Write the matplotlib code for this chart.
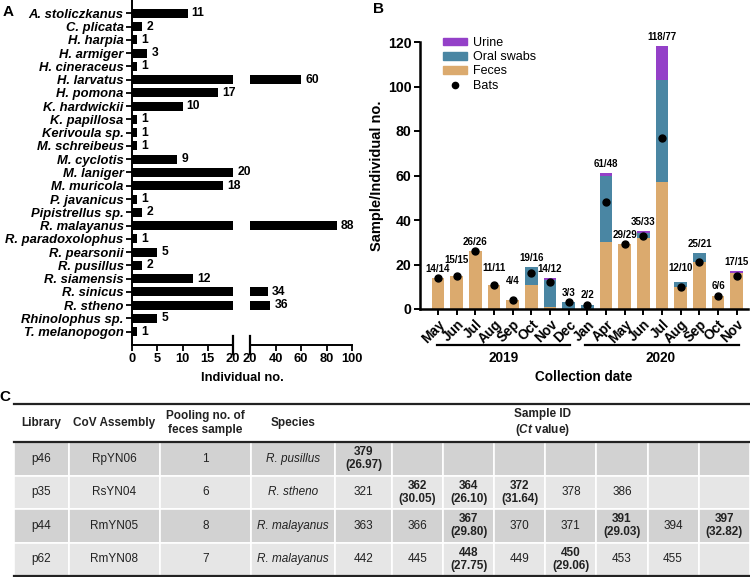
import matplotlib
matplotlib.use('Agg')
import matplotlib.pyplot as plt
from matplotlib.patches import Patch, Rectangle
from matplotlib.lines import Line2D
import numpy as np

plt.rcParams['font.family'] = ['Liberation Sans', 'DejaVu Sans']
plt.rcParams['mathtext.fontset'] = 'custom'
plt.rcParams['mathtext.it'] = 'Liberation Sans:italic:bold'
plt.rcParams['mathtext.rm'] = 'Liberation Sans:bold'
plt.rcParams['axes.linewidth'] = 1.4

# ---------------- Panel A data ----------------
species = ['A. stoliczkanus', 'C. plicata', 'H. harpia', 'H. armiger', 'H. cineraceus',
           'H. larvatus', 'H. pomona', 'K. hardwickii', 'K. papillosa', 'Kerivoula sp.',
           'M. schreibeus', 'M. cyclotis', 'M. laniger', 'M. muricola', 'P. javanicus',
           'Pipistrellus sp.', 'R. malayanus', 'R. paradoxolophus', 'R. pearsonii',
           'R. pusillus', 'R. siamensis', 'R. sinicus', 'R. stheno', 'Rhinolophus sp.',
           'T. melanopogon']
counts = [11, 2, 1, 3, 1, 60, 17, 10, 1, 1, 1, 9, 20, 18, 1, 2, 88, 1, 5, 2, 12, 34, 36, 5, 1]
left_ticks = [0, 5, 10, 15, 20]
right_ticks = [20, 40, 60, 80, 100]

# ---------------- Panel B data ----------------
months = ['May', 'Jun', 'Jul', 'Aug', 'Sep', 'Oct', 'Nov', 'Dec',
          'Jan', 'Apr', 'May', 'Jun', 'Jul', 'Aug', 'Sep', 'Oct', 'Nov']
years = ['2019', '2020']
feces = [14, 15, 26, 11, 4, 11, 1, 0, 0, 30, 29, 32, 57, 10, 21, 6, 16]
oral = [0, 0, 0, 0, 0, 8, 12, 3, 2, 30, 0, 2, 46, 2, 4, 0, 0]
urine = [0, 0, 0, 0, 0, 0, 1, 0, 0, 1, 0, 1, 15, 0, 0, 0, 1]
bats = [14, 15, 26, 11, 4, 16, 12, 3, 2, 48, 29, 33, 77, 10, 21, 6, 15]
b_yticks = [0, 20, 40, 60, 80, 100, 120]

# ---------------- Panel C data ----------------
tbl_headers = ['Library', 'CoV Assembly', 'Pooling no. of\nfeces sample', 'Species']
libraries = ['p46', 'p35', 'p44', 'p62']
assemblies = ['RpYN06', 'RsYN04', 'RmYN05', 'RmYN08']
pooling = [1, 6, 8, 7]
tbl_species = ['R. pusillus', 'R. stheno', 'R. malayanus', 'R. malayanus']
sample_ids = [[379],
              [321, 362, 364, 372, 378, 386],
              [363, 366, 367, 370, 371, 391, 394, 397],
              [442, 445, 448, 449, 450, 453, 455]]
ct_values = [[26.97],
             [None, 30.05, 26.10, 31.64, None, None],
             [None, None, 29.80, None, None, 29.03, None, 32.82],
             [None, None, 27.75, None, 29.06, None, None]]

# ---------------- styling ----------------
C_URINE = '#9440C8'
C_ORAL = '#4A86A3'
C_FECES = '#DBAA6E'
FS = 8

fig = plt.figure(figsize=(7.5, 5.77), dpi=100)
W, H = 750.0, 577.0

def px_axes(x0, y0, x1, y1):
    return fig.add_axes([x0 / W, 1 - y1 / H, (x1 - x0) / W, (y1 - y0) / H])

# ---------------- Panel A ----------------
axL = px_axes(132, 0, 233, 345)
axR = px_axes(250, 0, 352, 345)
ypos = np.arange(len(species))
for ax in (axL, axR):
    ax.barh(ypos, counts, height=0.68, color='black')
    ax.set_ylim(25.0, -1.0)
    for s in ('top', 'right'):
        ax.spines[s].set_visible(False)
    ax.tick_params(axis='x', length=4, width=1.3, labelsize=FS + 1.3, pad=2)
axL.set_xlim(0, 20)
axL.set_xticks(left_ticks)
axL.set_xticklabels([str(t) for t in left_ticks], fontweight='bold')
axL.set_yticks(ypos)
axL.set_yticklabels(species, fontweight='bold', fontstyle='italic', fontsize=FS + 1.4)
axL.tick_params(axis='y', length=4, width=1.3, pad=2)
axR.set_xlim(20, 100)
axR.set_xticks(right_ticks)
axR.set_xticklabels([str(t) for t in right_ticks], fontweight='bold')
axR.spines['left'].set_visible(False)
axR.set_yticks([])
# break marks
axL.plot([1, 1], [-0.025, 0.025], transform=axL.transAxes, color='black', lw=1.6, clip_on=False)
axR.plot([0, 0], [-0.025, 0.025], transform=axR.transAxes, color='black', lw=1.6, clip_on=False)
for y, v in zip(ypos, counts):
    target = axL if v <= 20 else axR
    target.annotate(str(v), (v, y), xytext=(3, 0), textcoords='offset points',
                    va='center', ha='left', fontsize=FS + 0.7, fontweight='bold')
fig.text(242 / W, 1 - 378 / H, 'Individual no.', ha='center', va='center',
         fontsize=FS + 1.3, fontweight='bold')
fig.text(8 / W, 1 - 12 / H, 'A', ha='center', va='center', fontsize=11, fontweight='bold')

# ---------------- Panel B ----------------
axB = px_axes(420, 42, 748, 309)
x = np.arange(len(months))
feces_a = np.array(feces)
oral_a = np.array(oral)
urine_a = np.array(urine)
bw = 0.68
axB.bar(x, feces_a, width=bw, color=C_FECES, label='Feces')
axB.bar(x, oral_a, width=bw, bottom=feces_a, color=C_ORAL, label='Oral swabs')
axB.bar(x, urine_a, width=bw, bottom=feces_a + oral_a, color=C_URINE, label='Urine')
axB.plot(x, bats, 'o', color='black', markersize=5, zorder=5)
totals = feces_a + oral_a + urine_a
nudge = [0, 6, 0, 7, 10, 0, 0, 0, 0, 0, 0, 0, 0, 5, 0, 0, 0]
for xi, t, b, n in zip(x, totals, bats, nudge):
    axB.annotate(f'{t}/{b}', (xi, t), xytext=(0, 3 + n * 0.75), textcoords='offset points',
                 ha='center', va='bottom', fontsize=FS - 1, fontweight='bold')
axB.set_xlim(-0.97, 16.6)
axB.set_ylim(0, 120)
axB.set_yticks(b_yticks)
axB.set_yticklabels([str(t) for t in b_yticks], fontweight='bold', fontsize=FS + 2.2)
axB.set_xticks(x)
axB.set_xticklabels(months, rotation=45, ha='right', va='top', rotation_mode='anchor',
                    fontweight='bold', fontsize=FS + 1.8)
axB.tick_params(axis='both', length=4.5, width=1.4, pad=1.5)
for s in ('top', 'right'):
    axB.spines[s].set_visible(False)
axB.spines['left'].set_linewidth(1.8)
axB.spines['bottom'].set_linewidth(1.8)
axB.set_ylabel('Sample/Individual no.', fontweight='bold', fontsize=FS + 2.5, labelpad=3)
tr = axB.get_xaxis_transform()
axB.plot([-0.05, 7.06], [-0.135, -0.135], transform=tr, color='black', lw=1.6, clip_on=False)
axB.plot([7.86, 16.1], [-0.135, -0.135], transform=tr, color='black', lw=1.6, clip_on=False)
axB.text(3.5, -0.185, years[0], transform=tr, ha='center', va='center', fontsize=FS + 1.8,
         fontweight='bold')
axB.text(11.9, -0.185, years[1], transform=tr, ha='center', va='center', fontsize=FS + 1.8,
         fontweight='bold')
fig.text(584 / W, 1 - 377 / H, 'Collection date', ha='center', va='center',
         fontsize=FS + 1.8, fontweight='bold')
handles = [Patch(color=C_URINE), Patch(color=C_ORAL), Patch(color=C_FECES),
           Line2D([], [], marker='o', color='black', linestyle='none', markersize=4.5)]
fig.legend(handles, ['Urine', 'Oral swabs', 'Feces', 'Bats'], loc='upper left',
           bbox_to_anchor=(443 / W, 1 - 37 / H), frameon=False, fontsize=FS + 1,
           handlelength=1.9, handleheight=0.55, labelspacing=0.18, handletextpad=0.5,
           borderpad=0, borderaxespad=0)
fig.text(378 / W, 1 - 9 / H, 'B', ha='center', va='center', fontsize=11, fontweight='bold')

# ---------------- Panel C (table) ----------------
col_w = [55, 91, 91, 84, 57] + [51.1] * 7
row_h = [38] + [33.5] * 4
col_x = np.concatenate([[0], np.cumsum(col_w)])
row_y = np.concatenate([[0], np.cumsum(row_h)])
axT = px_axes(14, 404, 14 + col_x[-1], 404 + row_y[-1])
axT.set_xlim(0, col_x[-1])
axT.set_ylim(row_y[-1], 0)
axT.axis('off')
row_colors = ['#D2D2D2', '#E6E6E6']
n_fixed = 4
for r in range(len(libraries)):
    y0, y1 = row_y[r + 1], row_y[r + 2]
    for c in range(len(col_w)):
        axT.add_patch(Rectangle((col_x[c], y0), col_w[c], y1 - y0,
                                facecolor=row_colors[r % 2], edgecolor='white', lw=1.2))
    yc = (y0 + y1) / 2
    fixed = [libraries[r], assemblies[r], str(pooling[r]), tbl_species[r]]
    for c, txt in enumerate(fixed):
        axT.text((col_x[c] + col_x[c + 1]) / 2, yc, txt, ha='center', va='center',
                 fontsize=FS + 0.5, fontstyle='italic' if c == 3 else 'normal',
                 color='#222222')
    for k, (sid, ct) in enumerate(zip(sample_ids[r], ct_values[r])):
        c = n_fixed + k
        xc = (col_x[c] + col_x[c + 1]) / 2
        if ct is None:
            axT.text(xc, yc, str(sid), ha='center', va='center', fontsize=FS + 0.5,
                     color='#222222')
        else:
            axT.text(xc, yc, f'{sid}\n({ct:.2f})', ha='center', va='center',
                     fontsize=FS + 0.5, fontweight='bold', color='#222222',
                     linespacing=1.15)
hy = row_h[0] / 2
for c, txt in enumerate(tbl_headers):
    axT.text((col_x[c] + col_x[c + 1]) / 2, hy, txt, ha='center', va='center',
             fontsize=FS + 0.5, fontweight='bold', color='#222222', linespacing=1.15)
axT.text((col_x[n_fixed] + col_x[-1]) / 2, hy, 'Sample ID\n(' + r'$\mathit{Ct}$' + ' value)',
         ha='center', va='center', fontsize=FS + 0.5, fontweight='bold', color='#222222',
         linespacing=1.15)
for yl in (0, row_y[1], row_y[-1]):
    axT.plot([0, col_x[-1]], [yl, yl], color='#222222', lw=1.6, clip_on=False)
fig.text(5 / W, 1 - 397 / H, 'C', ha='center', va='center', fontsize=11, fontweight='bold')

fig.savefig('out.png', dpi=100)
